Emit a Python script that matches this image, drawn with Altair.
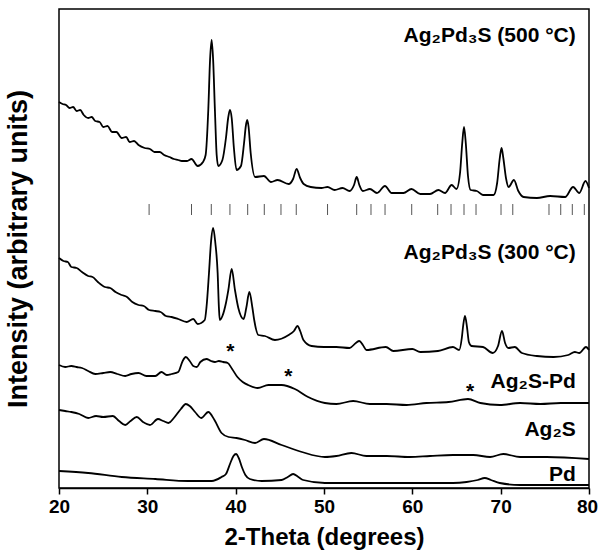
import altair as alt
import pandas as pd

# ---- data (2-theta in degrees, intensity in arbitrary units) ----
tt_500 = [20.0, 20.4, 20.8, 21.2, 21.6, 22.0, 22.4, 22.8, 23.3, 23.7, 24.1, 24.6, 25.0, 25.5, 26.0, 26.5,
          27.1, 27.6, 28.0, 28.5, 29.0, 29.7, 30.3, 30.8, 31.4, 31.9, 32.5, 33.0, 33.5, 33.9, 34.5, 35.0,
          35.7, 36.3, 36.6, 36.9, 37.1, 37.28, 37.45, 37.65, 37.85, 38.03, 38.5, 38.9, 39.15, 39.35, 39.55,
          39.8, 40.1, 40.6, 40.95, 41.15, 41.3, 41.45, 41.7, 42.2, 43.2, 44.0, 44.75, 46.0, 46.5, 46.9,
          47.3, 47.7, 48.5, 49.7, 50.4, 51.2, 52.1, 52.9, 53.4, 53.7, 54.0, 54.4, 55.2, 56.0, 56.9, 57.66,
          59.0, 59.9, 60.9, 62.0, 62.95, 63.7, 64.45, 65.0, 65.4, 65.65, 65.85, 66.05, 66.3, 66.6, 67.3,
          68.0, 69.2, 69.6, 69.9, 70.1, 70.3, 70.6, 70.9, 71.5, 72.0, 72.6, 74.1, 75.6, 77.3, 78.2, 78.9,
          79.6, 80.0]
in_500 = [386, 384, 383, 380, 381, 377, 378, 373, 370, 371, 367, 366, 361, 362, 356, 356,
          350, 351, 346, 347, 343, 340, 339, 336, 336, 333, 331, 329, 328, 327, 327, 329,
          322, 326, 333, 378, 428, 448, 428, 378, 333, 322, 328, 350, 370, 378, 370,
          340, 318, 322, 345, 362, 368, 362, 335, 311, 312, 306, 308, 304, 309, 319,
          310, 304, 301, 300, 301, 298, 300, 297, 303, 311, 303, 297, 299, 295, 302, 295,
          295, 299, 294, 294, 298, 295, 303, 299, 315, 345, 361, 345, 312, 298, 297,
          293, 293, 305, 330, 340, 330, 310, 301, 308, 297, 291, 290, 292, 291, 301, 295,
          307, 300]

tt_300 = [20.0, 20.5, 21.0, 21.4, 22.0, 22.6, 23.3, 23.8, 24.4, 25.2, 25.8, 26.4, 27.1, 27.7, 28.3,
          29.0, 29.6, 30.2, 30.9, 31.5, 32.1, 32.75, 33.5, 34.45, 35.2, 35.7, 36.5, 36.7, 36.98, 37.2,
          37.45, 37.7, 37.96, 38.1, 38.2, 38.5, 38.9, 39.17, 39.55, 39.92, 40.3, 40.9, 41.2, 41.55, 41.9,
          42.1, 42.56, 43.3, 44.45, 46.0, 46.6, 47.0, 47.3, 47.67, 48.6, 50.0, 51.4, 52.9, 53.6, 54.0,
          54.4, 54.8, 57.0, 57.85, 60.0, 60.9, 62.9, 64.6, 65.3, 65.6, 65.75, 65.96, 66.2, 66.4, 66.7,
          68.0, 69.1, 69.7, 70.15, 70.5, 70.87, 71.6, 72.4, 74.1, 76.0, 77.65, 78.4, 78.9, 79.66, 80.0]
in_300 = [230, 227, 226, 221, 220, 216, 212, 211, 206, 201, 200, 196, 193, 191, 186,
          183, 182, 178, 177, 176, 172, 171, 169, 166, 169, 164, 168, 181, 215, 245,
          260, 245, 215, 181, 168, 172, 185, 198, 219, 198, 180, 169, 180, 196, 180,
          168, 153, 152, 148, 153, 157, 162, 157, 148, 142, 141, 141, 140, 145, 147,
          143, 138, 141, 137, 139, 136, 137, 141, 138, 150, 162, 172, 160, 146, 142,
          141, 135, 142, 157, 145, 140, 141, 135, 132, 131, 133, 136, 135, 141, 138]

tt_ag2spd = [20.0, 20.7, 21.4, 22.0, 22.6, 23.3, 24.1, 25.0, 25.8, 26.6, 27.5, 28.2, 29.0, 29.9, 30.9,
             31.6, 32.2, 32.75, 33.5, 34.0, 34.35, 34.8, 35.2, 35.6, 36.0, 36.7, 37.2, 37.66, 38.1, 38.6,
             39.1, 39.6, 40.2, 40.8, 41.4, 42.5, 43.7, 45.2, 46.7, 48.2, 50.1, 51.4, 53.3, 55.2, 57.1,
             59.35, 61.6, 64.1, 66.3, 67.7, 69.9, 72.2, 74.5, 76.8, 80.0]
in_ag2spd = [123, 121, 122, 121, 120, 117, 114, 115, 116, 114, 112, 114, 115, 112, 112,
             116, 113, 114, 116, 127, 131, 127, 122, 121, 126, 129, 127, 126, 127, 126,
             125, 119, 111, 106, 103, 100, 103, 103, 99, 91, 85, 84, 87, 84, 84,
             83, 85, 86, 89, 85, 83, 85, 84, 85, 85]

tt_ag2s = [20.0, 20.7, 21.4, 22.3, 23.3, 24.2, 25.0, 26.1, 26.8, 27.5, 28.1, 28.8, 29.5, 30.3, 31.2,
           31.8, 32.4, 33.0, 33.8, 34.35, 34.8, 35.4, 36.1, 36.9, 37.6, 38.4, 39.2, 40.1, 41.06, 42.2,
           43.2, 45.2, 47.5, 50.1, 51.4, 53.1, 54.8, 57.1, 59.7, 62.0, 64.6, 66.9, 68.8, 70.3, 72.2,
           75.2, 80.0]
in_ag2s = [78, 77, 76, 74, 70, 72, 71, 72, 67, 63, 67, 71, 66, 63, 69,
           67, 65, 70, 79, 84, 82, 76, 70, 76, 68, 55, 51, 50, 48, 45,
           49, 43, 36, 31, 32, 35, 32, 32, 31, 32, 33, 33, 31, 34, 31,
           31, 29]

tt_pd = [20.0, 23.3, 27.1, 30.9, 34.6, 37.3, 38.4, 38.9, 39.4, 39.75, 40.04, 40.35, 40.7, 41.1, 41.6,
         42.95, 45.2, 45.9, 46.5, 47.1, 47.65, 50.1, 57.1, 64.6, 66.15, 67.4, 68.2, 68.9, 69.9, 72.2, 80.0]
in_pd = [17, 15, 11, 9, 7, 7, 11, 14, 25, 32, 34, 30, 21, 13, 9,
         7, 8, 11, 14, 11, 8, 5, 5, 5, 6, 8, 10, 8, 5, 3, 3]

series = [("500", tt_500, in_500), ("300", tt_300, in_300), ("Ag2S-Pd", tt_ag2spd, in_ag2spd),
          ("Ag2S", tt_ag2s, in_ag2s), ("Pd", tt_pd, in_pd)]

# reference reflection markers for Ag2Pd3S
ref_ticks = [30.2, 35.0, 37.24, 39.35, 41.36, 43.24, 45.13, 46.86, 50.4, 53.7, 55.32, 56.91, 59.93,
             62.87, 64.38, 65.85, 67.21, 70.04, 71.37, 75.47, 76.8, 78.11, 79.47]
tick_lo = 273
tick_hi = 284

label_text = ["Ag₂Pd₃S (500 °C)", "Ag₂Pd₃S (300 °C)", "Ag₂S-Pd", "Ag₂S", "Pd"]
label_tt = [78.5, 78.5, 78.5, 78.5, 78.5]
label_in = [452, 235, 106, 58, 13]

star_tt = [39.4, 45.96, 66.53]
star_in = [136, 111, 96]

rows = []
for name, xs, ys in series:
    for a, b in zip(xs, ys):
        rows.append({"series": name, "tt": a, "inten": b})
df = pd.DataFrame(rows)

df_ticks = pd.DataFrame({"tt": ref_ticks, "lo": [tick_lo] * len(ref_ticks), "hi": [tick_hi] * len(ref_ticks)})
df_labels = pd.DataFrame({"text": label_text, "tt": label_tt, "inten": label_in})
df_stars = pd.DataFrame({"tt": star_tt, "inten": star_in, "text": ["*"] * len(star_tt)})

FONT = "Liberation Sans"

xscale = alt.Scale(domain=[20, 80], nice=False, zero=False)
yscale = alt.Scale(domain=[0, 479], nice=False, zero=False)

xaxis = alt.Axis(values=[20, 30, 40, 50, 60, 70, 80], format="d", grid=False,
                 labelFlush=False,
                 labelOffset={"condition": {"test": "datum.value == 80", "value": -2}, "value": 0},
                 labelFont=FONT, labelFontSize=19, labelFontWeight="bold", labelColor="black",
                 title="2-Theta (degrees)", titleFont=FONT, titleFontSize=24, titleFontWeight="bold",
                 titleColor="black", titlePadding=9, tickSize=6, tickWidth=1.5, tickColor="black",
                 domainColor="black", domainWidth=1.5, labelPadding=3)
yaxis = alt.Axis(title="Intensity (arbitrary units)", labels=False, ticks=False, domain=False, grid=False,
                 titleFont=FONT, titleFontSize=27, titleFontWeight="bold", titleColor="black",
                 titlePadding=27)

lines = alt.Chart(df).mark_line(color="black", strokeWidth=1.8, interpolate="monotone").encode(
    x=alt.X("tt:Q", scale=xscale, axis=xaxis),
    y=alt.Y("inten:Q", scale=yscale, axis=yaxis),
    detail="series:N",
)

ticks = alt.Chart(df_ticks).mark_rule(color="#555555", strokeWidth=1).encode(
    x="tt:Q", y="lo:Q", y2="hi:Q"
)

labels = alt.Chart(df_labels).mark_text(align="right", baseline="middle", font=FONT, fontSize=21,
                                        fontWeight="bold", color="black").encode(
    x="tt:Q", y="inten:Q", text="text:N"
)

stars = alt.Chart(df_stars).mark_text(align="center", baseline="middle", font=FONT, fontSize=21,
                                      fontWeight="bold", color="black").encode(
    x="tt:Q", y="inten:Q", text="text:N"
)

chart = alt.layer(lines, ticks, labels, stars).properties(
    width=530, height=479,
    autosize=alt.AutoSizeParams(type="none"),
    padding={"left": 59, "top": 9, "right": 9, "bottom": 69},
    background="white",
).configure_view(stroke="black", strokeWidth=1.5)

chart.save("out.html", embed_options={"renderer": "svg", "actions": False})
